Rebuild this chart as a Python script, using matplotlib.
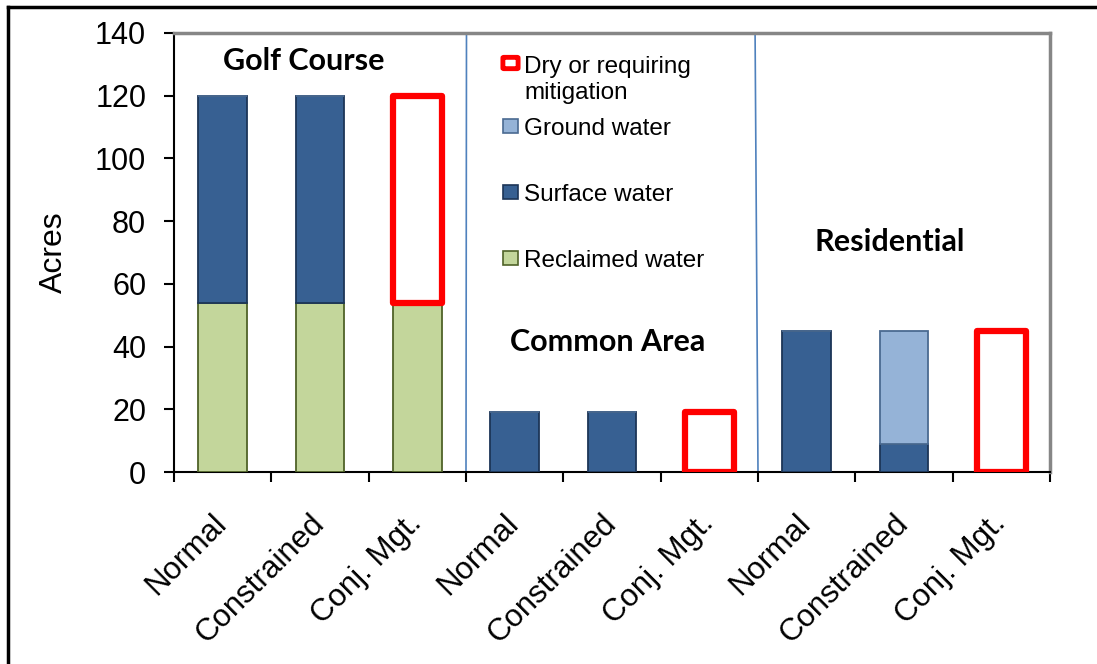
import matplotlib
matplotlib.use("Agg")
import matplotlib.pyplot as plt
from matplotlib.patches import Rectangle, FancyBboxPatch
from matplotlib.lines import Line2D
from matplotlib.transforms import ScaledTranslation
import numpy as np

# ---- data ----
categories = ["Normal", "Constrained", "Conj. Mgt.",
              "Normal", "Constrained", "Conj. Mgt.",
              "Normal", "Constrained", "Conj. Mgt."]
reclaimed = [54, 54, 54, 0, 0, 0, 0, 0, 0]
surface = [66, 66, 0, 19, 19, 0, 45, 9, 0]
ground = [0, 0, 0, 0, 0, 0, 0, 36, 0]
dry = [0, 0, 66, 0, 0, 19, 0, 0, 45]
group_titles = ["Golf Course", "Common Area", "Residential"]
group_title_pos = [(0.83, 131), (3.95, 41.5), (6.85, 73.3)]
legend_labels = ["Dry or requiring\nmitigation", "Ground water", "Surface water", "Reclaimed water"]
yticks = [0, 20, 40, 60, 80, 100, 120, 140]

c_surface, e_surface = "#376092", "#1c3557"
c_ground, e_ground = "#95b3d7", "#4a6a91"
c_recl, e_recl = "#c3d69b", "#4f6228"
c_dry = "#ff0000"

plt.rcParams['font.family'] = ['Liberation Sans', 'DejaVu Sans']

W, H = 1097, 664
fig = plt.figure(figsize=(W / 100, H / 100), dpi=100)
ax = fig.add_axes([174 / W, 1 - 472 / H, 876 / W, 439 / H])

x = np.arange(len(categories))
bw = 0.5
rec = np.array(reclaimed); sur = np.array(surface); gro = np.array(ground); dr = np.array(dry)
ax.bar(x, rec, bw, color=c_recl, edgecolor=e_recl, linewidth=1.3, zorder=3)
ax.bar(x, sur, bw, bottom=rec, color=c_surface, edgecolor=e_surface, linewidth=1.3, zorder=3)
ax.bar(x, gro, bw, bottom=rec + sur, color=c_ground, edgecolor=e_ground, linewidth=1.3, zorder=3)
mask = dr > 0
ax.bar(x[mask], dr[mask], bw, bottom=(rec + sur + gro)[mask], facecolor="none",
       edgecolor=c_dry, linewidth=4.5, zorder=4, joinstyle="round")

ax.set_xlim(-0.5, len(categories) - 0.5)
ax.set_ylim(0, 140)

# separators
ax.plot([2.505, 2.5], [140, 0], color="#4f81bd", linewidth=1.2, zorder=2)
ax.plot([5.47, 5.5], [140, 0], color="#4f81bd", linewidth=1.2, zorder=2)

# axes styling
for s in ["top", "right"]:
    ax.spines[s].set_color("#868686")
    ax.spines[s].set_linewidth(2.5)
for s in ["left", "bottom"]:
    ax.spines[s].set_color("black")
    ax.spines[s].set_linewidth(1.5)
ax.set_yticks(yticks)
ax.set_yticklabels([str(v) for v in yticks], fontsize=22)
ax.tick_params(axis="y", direction="out", length=7, width=1.5, pad=13)
ax.set_xticks(np.arange(-0.5, len(categories) + 0.5, 1), minor=False)
ax.set_xticklabels([])
ax.tick_params(axis="x", direction="out", length=7, width=1.5)
ax.set_xticks(x, minor=True)
ax.set_xticklabels(categories, minor=True, rotation=45, ha="right", rotation_mode="anchor", fontsize=22.5)
ax.tick_params(axis="x", which="minor", length=0, pad=26)
off = ScaledTranslation(-0.11, 0, fig.dpi_scale_trans)
for lab in ax.get_xticklabels(minor=True):
    lab.set_transform(lab.get_transform() + off)
ax.set_ylabel("Acres", fontsize=23)
ax.yaxis.set_label_coords(-0.12, 0.5)

for t, (tx, ty) in zip(group_titles, group_title_pos):
    ax.text(tx, ty, t, ha="center", va="center", fontsize=22, fontweight="bold",
            family=["Lato", "DejaVu Sans"], zorder=5)

# legend (manual)
def fx(px):
    return px / W
def fy(py):
    return 1 - py / H

fig.patches.append(FancyBboxPatch((fx(504), fy(68)), 13 / W, 10 / H,
                                  boxstyle="round,pad=0.001", transform=fig.transFigure,
                                  facecolor="white", edgecolor=c_dry, linewidth=3.5))
fig.text(fx(524), fy(80), legend_labels[0], fontsize=17.5, va="center", ha="left", linespacing=1.25)
items = [(126, c_ground, e_ground, legend_labels[1]),
         (192, c_surface, e_surface, legend_labels[2]),
         (258, c_recl, e_recl, legend_labels[3])]
for py, fc, ec, lab in items:
    fig.patches.append(Rectangle((fx(503), fy(py + 7)), 15 / W, 14 / H, transform=fig.transFigure,
                                 facecolor=fc, edgecolor=ec, linewidth=1.2))
    fig.text(fx(524), fy(py + 3), lab, fontsize=17.5, va="center", ha="left")

# outer border (left and top)
fig.add_artist(Line2D([fx(8), fx(8)], [fy(7), 0], transform=fig.transFigure, color="black", linewidth=2.5))
fig.add_artist(Line2D([fx(8), 1], [fy(7), fy(7)], transform=fig.transFigure, color="black", linewidth=2.5))

fig.savefig("out.png", dpi=100)
